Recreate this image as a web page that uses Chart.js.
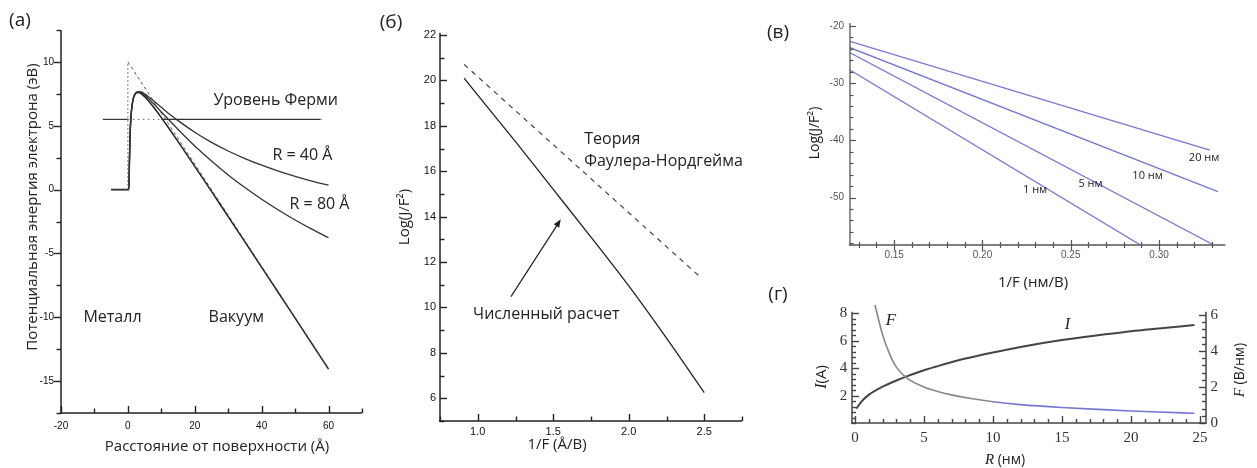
<!DOCTYPE html>
<html>
<head>
<meta charset="utf-8">
<script src="https://cdn.jsdelivr.net/npm/chart.js@4.4.1/dist/chart.umd.min.js"></script>
<style>
  html, body { margin: 0; padding: 0; background: #fff; }
  body { width: 1257px; height: 468px; position: relative; overflow: hidden; }
  canvas { position: absolute; }
</style>
</head>
<body>
<canvas id="chart-a" width="375" height="468" style="left:0;top:0"></canvas>
<canvas id="chart-b" width="380" height="468" style="left:375px;top:0"></canvas>
<canvas id="chart-v" width="502" height="295" style="left:755px;top:0"></canvas>
<canvas id="chart-g" width="502" height="188" style="left:755px;top:280px"></canvas>
<script>
// ---- (а) potential energy of an electron vs distance from the surface ----
const distA = [-5, 0.3, 0.45, 0.6, 0.8, 1, 1.5, 2, 3, 4, 5, 6, 8, 10, 12, 15, 20, 25, 30, 35, 40, 45, 50, 55, 60];
const potFlat = [0, 0, 2.0, 3.8, 5.2, 6.0, 7.0, 7.4, 7.6, 7.5, 7.28, 7.0, 6.35, 5.64, 4.9, 3.76, 1.82, -0.14, -2.12, -4.1, -6.09, -8.08, -10.07, -12.07, -14.06];
const potR80 = [0, 0, 2.0, 3.8, 5.2, 6.0, 7.0, 7.42, 7.64, 7.58, 7.4, 7.17, 6.64, 6.08, 5.53, 4.71, 3.42, 2.24, 1.15, 0.16, -0.76, -1.6, -2.38, -3.1, -3.77];
const potR40 = [0, 0, 2.0, 3.8, 5.2, 6.0, 7.0, 7.44, 7.68, 7.65, 7.5, 7.31, 6.88, 6.44, 6.0, 5.4, 4.49, 3.7, 3.02, 2.43, 1.91, 1.45, 1.04, 0.67, 0.34];
const wallX = [0, 0];          // barrier edge without image force
const wallY = [0, 10];
const slopeX = [0, 60];
const slopeY = [10, -14];
const fermiLevel = 5.5;
const fermiX = [-7.5, 0, 10, 57.5, 58.5];
const ticksAX = [-20, 0, 20, 40, 60];
const ticksAY = [-15, -10, -5, 0, 5, 10];

// ---- (б) Log(J/F^2) vs 1/F ----
const invFieldB = [0.91, 1.0, 1.25, 1.5, 1.75, 2.0, 2.25, 2.5];
const logNumeric = [20.1, 19.35, 17.3, 15.2, 13.1, 10.95, 8.65, 6.25];
const invFieldFN = [0.91, 2.48];
const logFN = [20.7, 11.3];
const ticksBX = [1.0, 1.5, 2.0, 2.5];
const ticksBY = [6, 8, 10, 12, 14, 16, 18, 20, 22];

// ---- (в) Log(J/F^2) vs 1/F for several tip radii ----
const radiusLabels = ['1 нм', '5 нм', '10 нм', '20 нм'];
const invF1 = [0.125, 0.289];   const log1 = [-27.7, -58.2];
const invF5 = [0.125, 0.3305];  const log5 = [-24.7, -58.2];
const invF10 = [0.125, 0.3333]; const log10 = [-23.8, -48.97];
const invF20 = [0.125, 0.3287]; const log20 = [-22.7, -41.7];
const ticksVX = [0.15, 0.20, 0.25, 0.30];
const ticksVY = [-50, -40, -30, -20];

// ---- (г) current and field vs radius ----
const radiusI = [0.1, 0.5, 1, 2, 3, 3.75, 5, 6, 8, 10, 12, 15, 18, 20, 22, 24.6];
const currentA = [1.05, 1.6, 2.05, 2.65, 3.1, 3.4, 3.85, 4.15, 4.7, 5.15, 5.55, 6.05, 6.45, 6.7, 6.9, 7.15];
const radiusF = [1.45, 2, 2.5, 3, 3.75, 5, 6, 7, 8.3, 10, 12, 15, 18, 20, 22, 24.6];
const fieldVnm = [6.55, 4.9, 3.85, 3.1, 2.5, 2.0, 1.75, 1.56, 1.37, 1.18, 1.02, 0.86, 0.74, 0.67, 0.61, 0.54];
const ticksGX = [0, 5, 10, 15, 20, 25];
const ticksGI = [2, 4, 6, 8];
const ticksGF = [0, 2, 4, 6];

const SANS = "'Open Sans', 'Noto Sans', sans-serif";
const SERIF = "'Liberation Serif', serif";
const INK = '#222';
const LAVENDER = 'rgb(118,118,212)';

const pts = (xs, ys) => xs.map((x, i) => ({ x, y: ys[i] }));
const flat = (xs, y) => xs.map(x => ({ x, y }));

function line(data, color, width, dash, extra) {
  return Object.assign({
    data, borderColor: color, borderWidth: width, borderDash: dash || [],
    pointRadius: 0, fill: false, tension: 0,
  }, extra || {});
}

// fixed-size axis so the plot area lands where it should
function axis(opts) {
  const { min, max, ticks, size, font, color, pad, fmt, position, horizontal } = opts;
  return {
    type: 'linear', position, min, max,
    afterBuildTicks: s => { s.ticks = ticks.map(v => ({ value: v })); },
    afterFit: s => { if (horizontal) s.height = size; else s.width = size; },
    grid: { display: false, drawTicks: false },
    border: { display: false },
    ticks: { font, color, padding: pad, autoSkip: false, maxRotation: 0, callback: fmt || (v => String(v)) },
  };
}

// axis lines plus major/minor tick marks ('in', 'out' or 'cross')
function axisMarks(spec) {
  return {
    id: 'axisMarks',
    afterDraw(chart) {
      const { ctx, chartArea: a } = chart;
      ctx.save();
      ctx.setLineDash([]);
      ctx.strokeStyle = spec.color || INK;
      for (const id of Object.keys(spec.axes)) {
        const m = spec.axes[id];
        const s = chart.scales[id];
        const horiz = s.isHorizontal();
        const right = s.position === 'right';
        const edge = horiz ? Math.round(a.bottom) : (right ? Math.round(a.right) : Math.round(a.left));
        const inward = horiz ? -1 : (right ? -1 : 1);

        ctx.lineWidth = spec.axisWidth || 1.5;
        ctx.beginPath();
        if (horiz) { ctx.moveTo(a.left - 1, edge); ctx.lineTo(a.right, edge); }
        else { ctx.moveTo(edge, a.top); ctx.lineTo(edge, a.bottom + 1); }
        ctx.stroke();

        const values = m.major.map(v => [v, m.len]);
        if (m.minor) {
          const k0 = Math.ceil(s.min / m.minor - 1e-6);
          const k1 = Math.floor(s.max / m.minor + 1e-6);
          for (let k = k0; k <= k1; k++) {
            const v = k * m.minor;
            if (!m.major.some(t => Math.abs(t - v) < 1e-6)) values.push([v, m.minorLen]);
          }
        }
        ctx.lineWidth = spec.tickWidth || 1.4;
        values.forEach(([v, len]) => {
          const p = Math.round(s.getPixelForValue(v)) + 0.5;
          let p1 = edge;
          let p2 = edge + inward * len;
          if (m.dir === 'out') p2 = edge - inward * len;
          if (m.dir === 'cross') { p1 = edge - inward * len; }
          ctx.beginPath();
          if (horiz) { ctx.moveTo(p, p1); ctx.lineTo(p, p2); }
          else { ctx.moveTo(p1, p); ctx.lineTo(p2, p); }
          ctx.stroke();
        });
      }
      ctx.restore();
    },
  };
}

// titles, annotations and arrows; data:true items sit in axis units
function textMarks(items) {
  return {
    id: 'textMarks',
    afterDraw(chart) {
      const { ctx } = chart;
      for (const t of items) {
        const yScale = chart.scales[t.yAxis || 'y'];
        if (t.arrow) {
          const [x1, y1, x2, y2] = t.arrow;
          const px1 = chart.scales.x.getPixelForValue(x1), py1 = yScale.getPixelForValue(y1);
          const px2 = chart.scales.x.getPixelForValue(x2), py2 = yScale.getPixelForValue(y2);
          const ang = Math.atan2(py2 - py1, px2 - px1);
          ctx.save();
          ctx.strokeStyle = INK; ctx.fillStyle = INK; ctx.lineWidth = 1.2;
          ctx.beginPath(); ctx.moveTo(px1, py1); ctx.lineTo(px2 - 5 * Math.cos(ang), py2 - 5 * Math.sin(ang)); ctx.stroke();
          ctx.translate(px2, py2); ctx.rotate(ang);
          ctx.beginPath(); ctx.moveTo(0, 0); ctx.lineTo(-8, -3.2); ctx.lineTo(-8, 3.2); ctx.closePath(); ctx.fill();
          ctx.restore();
          continue;
        }
        const x = t.data ? chart.scales.x.getPixelForValue(t.x) : t.x;
        const y = t.data ? yScale.getPixelForValue(t.y) : t.y;
        const parts = t.parts || [{ text: t.text, font: t.font }];
        ctx.save();
        ctx.translate(x, y);
        if (t.rotate) ctx.rotate(t.rotate * Math.PI / 180);
        ctx.fillStyle = t.color || INK;
        ctx.textBaseline = 'middle';
        ctx.textAlign = 'left';
        const widths = parts.map(p => { ctx.font = p.font; return ctx.measureText(p.text).width; });
        const total = widths.reduce((s, w) => s + w, 0);
        let cx = t.align === 'left' ? 0 : -total / 2;
        parts.forEach((p, i) => { ctx.font = p.font; ctx.fillText(p.text, cx, 0); cx += widths[i]; });
        ctx.restore();
      }
    },
  };
}

const base = {
  responsive: false,
  animation: false,
  events: [],
  plugins: { legend: { display: false }, tooltip: { enabled: false } },
};

// ---------- (а) ----------
const tickFontA = { family: "'Liberation Sans', sans-serif", size: 10 };
new Chart(document.getElementById('chart-a'), {
  type: 'line',
  data: {
    datasets: [
      line(pts(wallX, wallY), '#555', 1, [1.5, 2.5]),
      line(pts(slopeX, slopeY), '#555', 1, [3, 3]),
      line(flat(fermiX.slice(0, 2), fermiLevel), '#333', 1.2),
      line(flat(fermiX.slice(1, 3), fermiLevel), '#666', 1, [1.5, 3.5]),
      line(flat(fermiX.slice(2, 4), fermiLevel), '#333', 1.2),
      line(flat(fermiX.slice(3, 5), fermiLevel), '#666', 1, [1.5, 2.5]),
      line(pts(distA, potR40), '#333', 1.3, [], { cubicInterpolationMode: 'monotone' }),
      line(pts(distA, potR80), '#333', 1.3, [], { cubicInterpolationMode: 'monotone' }),
      line(pts(distA, potFlat), '#222', 1.5, [], { cubicInterpolationMode: 'monotone' }),
    ],
  },
  options: {
    ...base,
    layout: { padding: { left: 0, top: 30, right: 13, bottom: 0 } },
    scales: {
      x: axis({ min: -20, max: 70, ticks: ticksAX, size: 55, horizontal: true, position: 'bottom', font: tickFontA, color: '#111', pad: 7 }),
      y: axis({ min: -17.5, max: 12.5, ticks: ticksAY, size: 61, position: 'left', font: tickFontA, color: '#111', pad: 7 }),
    },
  },
  plugins: [
    axisMarks({ axes: {
      x: { major: ticksAX, minor: 10, dir: 'in', len: 7, minorLen: 4.5 },
      y: { major: ticksAY, minor: 2.5, dir: 'out', len: 7, minorLen: 4.5 },
    } }),
    textMarks([
      { text: '(а)', font: `19px ${SANS}`, x: 20, y: 21 },
      { text: 'Потенциальная энергия электрона (эВ)', font: `15px ${SANS}`, x: 33, y: 207, rotate: -90 },
      { text: 'Расстояние от поверхности (Å)', font: `15px ${SANS}`, x: 217, y: 447 },
      { text: 'Уровень Ферми', font: `16px ${SANS}`, data: true, x: 44.2, y: 7.0 },
      { text: 'R = 40 Å', font: `16px ${SANS}`, data: true, x: 52.2, y: 2.7 },
      { text: 'R = 80 Å', font: `16px ${SANS}`, data: true, x: 57.3, y: -1.2 },
      { text: 'Металл', font: `16px ${SANS}`, data: true, x: -4.6, y: -10 },
      { text: 'Вакуум', font: `16px ${SANS}`, data: true, x: 32.4, y: -10 },
    ]),
  ],
});

// ---------- (б) ----------
const tickFontB = { family: "'Liberation Sans', sans-serif", size: 11 };
new Chart(document.getElementById('chart-b'), {
  type: 'line',
  data: {
    datasets: [
      line(pts(invFieldFN, logFN), '#444', 1.2, [5, 5]),
      line(pts(invFieldB, logNumeric), '#222', 1.3, [], { cubicInterpolationMode: 'monotone' }),
    ],
  },
  options: {
    ...base,
    layout: { padding: { left: 0, top: 32.7, right: 13, bottom: 0 } },
    scales: {
      x: axis({ min: 0.75, max: 2.75, ticks: ticksBX, size: 47, horizontal: true, position: 'bottom', font: tickFontB, color: '#111', pad: 4, fmt: v => v.toFixed(1) }),
      y: axis({ min: 5, max: 22.1, ticks: ticksBY, size: 65, position: 'left', font: tickFontB, color: '#111', pad: 4 }),
    },
  },
  plugins: [
    axisMarks({ axes: {
      x: { major: ticksBX, minor: 0.25, dir: 'in', len: 7, minorLen: 4.5 },
      y: { major: ticksBY, minor: 1, dir: 'in', len: 7, minorLen: 4.5 },
    } }),
    textMarks([
      { text: '(б)', font: `19px ${SANS}`, x: 16, y: 23 },
      { text: 'Log(J/F²)', font: `15px ${SANS}`, x: 30, y: 217, rotate: -90 },
      { text: '1/F (Å/В)', font: `15px ${SANS}`, x: 182, y: 445 },
      { text: 'Теория', font: `16px ${SANS}`, data: true, align: 'left', x: 1.705, y: 17.4 },
      { text: 'Фаулера-Нордгейма', font: `16px ${SANS}`, data: true, align: 'left', x: 1.705, y: 16.43 },
      { text: 'Численный расчет', font: `16px ${SANS}`, data: true, align: 'left', x: 0.969, y: 9.69 },
      { arrow: [1.22, 10.48, 1.55, 13.88] },
    ]),
  ],
});

// ---------- (в) ----------
const tickFontV = { family: "'Liberation Sans', sans-serif", size: 10 };
new Chart(document.getElementById('chart-v'), {
  type: 'line',
  data: {
    datasets: [
      line(pts(invF1, log1), LAVENDER, 1.3),
      line(pts(invF5, log5), LAVENDER, 1.3),
      line(pts(invF10, log10), LAVENDER, 1.3),
      line(pts(invF20, log20), LAVENDER, 1.3),
    ],
  },
  options: {
    ...base,
    layout: { padding: { left: 0, top: 23.1, right: 31.7, bottom: 0 } },
    scales: {
      x: axis({ min: 0.125, max: 0.3375, ticks: ticksVX, size: 50.5, horizontal: true, position: 'bottom', font: tickFontV, color: '#555', pad: 5, fmt: v => v.toFixed(2) }),
      y: axis({ min: -58.2, max: -19.5, ticks: ticksVY, size: 95, position: 'left', font: tickFontV, color: '#555', pad: 6 }),
    },
  },
  plugins: [
    axisMarks({ color: '#555', axisWidth: 1.3, tickWidth: 1.2, axes: {
      x: { major: ticksVX, minor: 0.01, dir: 'cross', len: 5, minorLen: 3 },
      y: { major: ticksVY, minor: 2, dir: 'in', len: 6, minorLen: 3.5 },
    } }),
    textMarks([
      { text: '(в)', font: `19px ${SANS}`, x: 23, y: 33 },
      { text: 'Log(J/F²)', font: `14px ${SANS}`, x: 60, y: 133, rotate: -90 },
      { text: '1/F (нм/В)', font: `15px ${SANS}`, x: 278, y: 283 },
      { text: radiusLabels[0], font: `11px ${SANS}`, data: true, x: 0.2298, y: -48.7 },
      { text: radiusLabels[1], font: `11px ${SANS}`, data: true, x: 0.2612, y: -47.6 },
      { text: radiusLabels[2], font: `11px ${SANS}`, data: true, x: 0.2935, y: -46.2 },
      { text: radiusLabels[3], font: `11px ${SANS}`, data: true, x: 0.3255, y: -43.1 },
    ]),
  ],
});

// ---------- (г) ----------
const tickFontG = { family: SERIF, size: 15 };
new Chart(document.getElementById('chart-g'), {
  type: 'line',
  data: {
    datasets: [
      line(pts(radiusF, fieldVnm), '#888', 1.6, [], {
        yAxisID: 'yF', clip: false, cubicInterpolationMode: 'monotone',
        segment: { borderColor: c => (c.p0.parsed.x >= 9 ? LAVENDER : '#888') },
      }),
      line(pts(radiusI, currentA), '#444', 2, [], { yAxisID: 'yI', cubicInterpolationMode: 'monotone' }),
    ],
  },
  options: {
    ...base,
    layout: { padding: { left: 0, top: 31.7, right: 0, bottom: 0 } },
    scales: {
      x: axis({ min: -0.2, max: 25.4, ticks: ticksGX, size: 45, horizontal: true, position: 'bottom', font: tickFontG, color: '#333', pad: 6 }),
      yI: axis({ min: 0, max: 8.12, ticks: ticksGI, size: 97.2, position: 'left', font: tickFontG, color: '#333', pad: 5 }),
      yF: axis({ min: 0, max: 6.18, ticks: ticksGF, size: 51.5, position: 'right', font: tickFontG, color: '#333', pad: 5 }),
    },
  },
  plugins: [
    axisMarks({ color: '#444', axes: {
      x: { major: ticksGX, minor: 1, dir: 'in', len: 7, minorLen: 4 },
      yI: { major: ticksGI, minor: 0.4, dir: 'in', len: 7, minorLen: 4 },
      yF: { major: ticksGF, minor: 0.4, dir: 'in', len: 7, minorLen: 4 },
    } }),
    textMarks([
      { text: '(г)', font: `19px ${SANS}`, x: 23, y: 15 },
      { x: 67, y: 97, rotate: -90, parts: [{ text: 'I', font: `italic 16px ${SERIF}` }, { text: '(A)', font: `15px ${SANS}` }] },
      { x: 485, y: 90, rotate: -90, parts: [{ text: 'F', font: `italic 15px ${SERIF}` }, { text: ' (В/нм)', font: `14px ${SANS}` }] },
      { x: 250, y: 180, parts: [{ text: 'R', font: `italic 15px ${SERIF}` }, { text: ' (нм)', font: `14px ${SANS}` }] },
      { text: 'F', font: `italic 17px ${SERIF}`, data: true, yAxis: 'yI', x: 2.6, y: 7.5 },
      { text: 'I', font: `italic 16px ${SERIF}`, data: true, yAxis: 'yI', x: 15.4, y: 7.15 },
    ]),
  ],
});
</script>
</body>
</html>
